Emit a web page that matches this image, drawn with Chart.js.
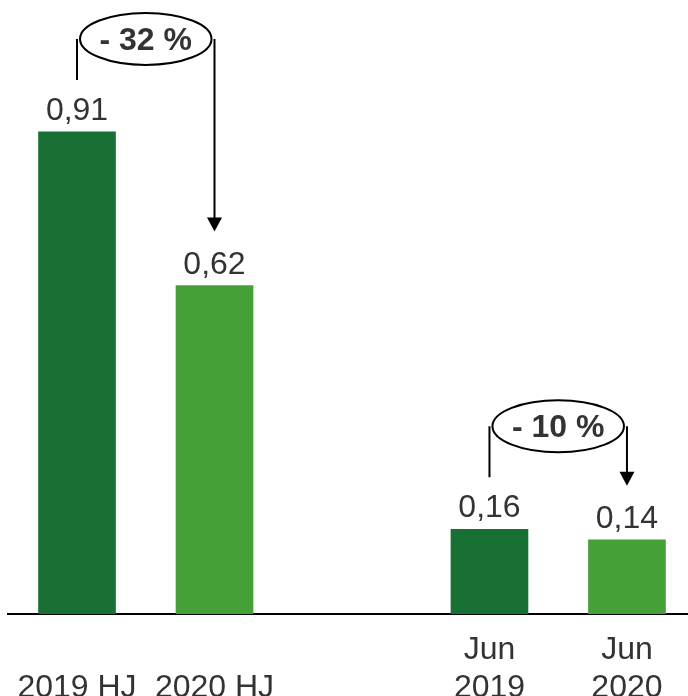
<!DOCTYPE html>
<html>
<head>
<meta charset="utf-8">
<script src="https://cdn.jsdelivr.net/npm/chart.js@4"></script>
<style>
  html, body { margin: 0; padding: 0; background: #fff; }
  #wrap { width: 688px; height: 696px; }
</style>
</head>
<body>
<div id="wrap"><canvas id="myChart"></canvas></div>
<script>
// chart data
const categories = [["", "2019 HJ"], ["", "2020 HJ"], ["Jun", "2019"], ["Jun", "2020"]];
const slots = [0, 1, 3, 4]; // slot 2 is the empty gap
const values = [0.91, 0.62, 0.16, 0.14];
const barColors = ["#197034", "#46a038", "#197034", "#46a038"];
const changes = [
  { from: 0, to: 1, text: "- 32 %" },
  { from: 2, to: 3, text: "- 10 %" },
];

const FONT = "'Liberation Sans', Arial, sans-serif";
const TEXT = "#333333";

// value labels + change bubbles with arrows
const labelPlugin = {
  id: "labels",
  afterDatasetsDraw(chart) {
    const ctx = chart.ctx;
    const bars = chart.getDatasetMeta(0).data;
    ctx.save();
    ctx.fillStyle = TEXT;
    ctx.font = "32px " + FONT;
    ctx.textAlign = "center";
    ctx.textBaseline = "alphabetic";
    bars.forEach((bar, i) => {
      ctx.fillText(values[i].toFixed(2).replace(".", ","), bar.x, bar.y - 12);
    });

    const lifts = [93, 103];
    ctx.strokeStyle = "#000";
    ctx.lineWidth = 2;
    changes.forEach((c, k) => {
      const a = bars[c.from];
      const b = bars[c.to];
      const cy = a.y - lifts[k];
      const cx = (a.x + b.x) / 2;
      const rx = (b.x - a.x) / 2 - 3;

      ctx.beginPath();
      ctx.moveTo(a.x, cy);
      ctx.lineTo(a.x, a.y - 52);
      ctx.moveTo(b.x, cy);
      ctx.lineTo(b.x, b.y - 66);
      ctx.stroke();

      ctx.fillStyle = "#000";
      ctx.beginPath();
      ctx.moveTo(b.x - 7.5, b.y - 68);
      ctx.lineTo(b.x + 7.5, b.y - 68);
      ctx.lineTo(b.x, b.y - 54);
      ctx.closePath();
      ctx.fill();

      ctx.beginPath();
      ctx.ellipse(cx, cy, rx, 26, 0, 0, Math.PI * 2);
      ctx.fillStyle = "#fff";
      ctx.fill();
      ctx.stroke();

      ctx.fillStyle = TEXT;
      ctx.font = "bold 32px " + FONT;
      ctx.textBaseline = "middle";
      ctx.fillText(c.text, cx, cy + 2);
      ctx.textBaseline = "alphabetic";
    });
    ctx.restore();
  },
};

const ctx = document.getElementById("myChart");

new Chart(ctx, {
  type: "bar",
  data: {
    datasets: [
      {
        data: values.map((v, i) => ({ x: slots[i], y: v })),
        backgroundColor: barColors,
        barThickness: 77,
        borderWidth: 0,
      },
    ],
  },
  options: {
    responsive: true,
    maintainAspectRatio: false,
    animation: false,
    layout: { padding: { left: 8, right: 0, top: 0, bottom: 0 } },
    plugins: {
      legend: { display: false },
      tooltip: { enabled: false },
    },
    scales: {
      x: {
        type: "linear",
        offset: false,
        min: -0.502,
        max: 4.444,
        grid: { display: false },
        border: { display: true, color: "#000", width: 2 },
        afterBuildTicks: (scale) => {
          scale.ticks = slots.map((v) => ({ value: v }));
        },
        afterFit: (scale) => {
          scale.height = 82;
        },
        ticks: {
          padding: 10,
          maxRotation: 0,
          autoSkip: false,
          color: TEXT,
          font: { size: 32, family: FONT, lineHeight: 1.16 },
          callback: (v) => categories[slots.indexOf(v)],
        },
      },
      y: {
        display: false,
        min: 0,
        max: 1.159,
      },
    },
  },
  plugins: [labelPlugin],
});
</script>
</body>
</html>
